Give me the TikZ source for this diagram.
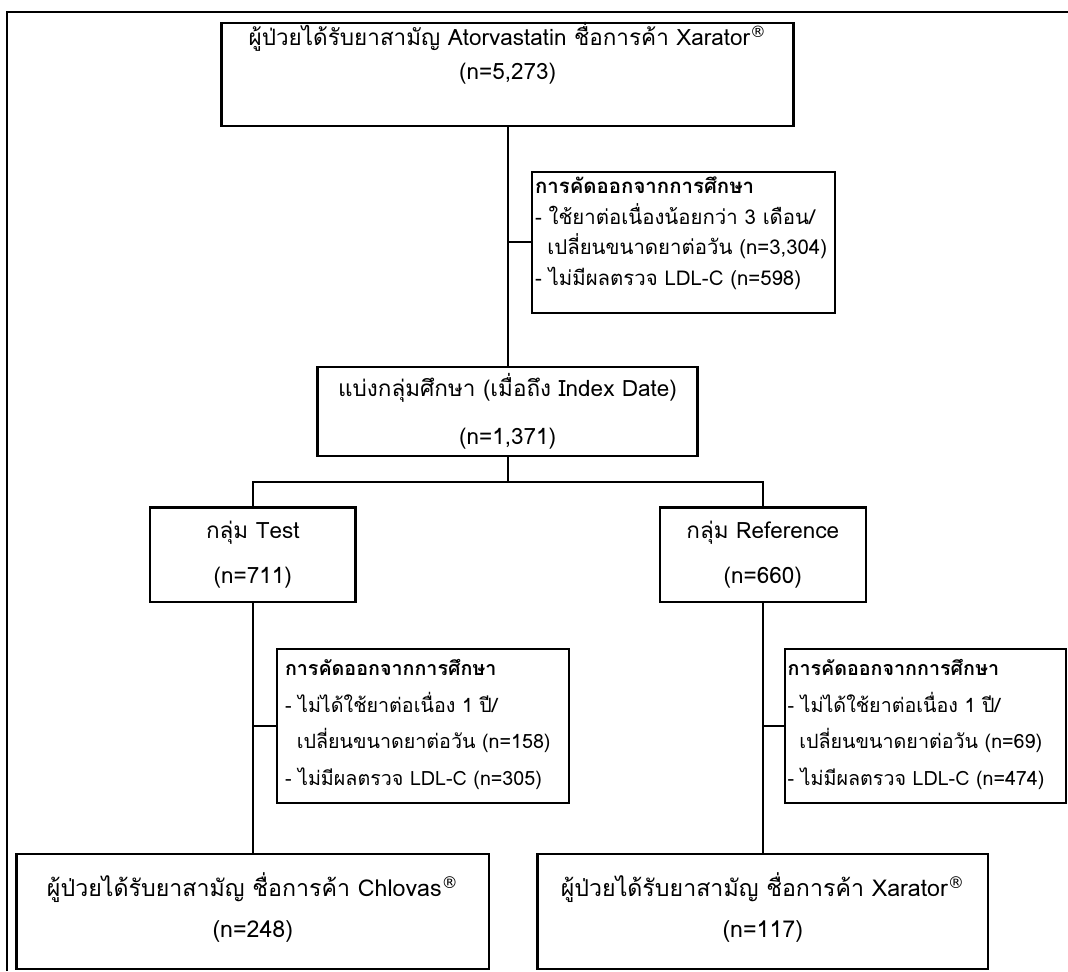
\documentclass[tikz,border=0pt]{standalone}
\usepackage{fontspec}
\setmainfont[Script=Thai]{Loma}
\newfontfamily\regfont{DejaVu Sans}
\newcommand{\regmark}{\textsuperscript{\regfont ®}}
\tikzset{
  % --- flow chart boxes ---
  flowbox/.style={draw, line width=1.7pt, align=center, inner sep=0pt,
    font=\fontsize{16}{33.8}\selectfont},
  endbox/.style={flowbox, font=\fontsize{16.5}{28.8}\selectfont},
  exclbox/.style={draw, line width=1.7pt, align=left, inner sep=0pt,
    font=\fontsize{14}{26}\selectfont},
  % first baseline sits #1/2 above the box centre
  textdrop/.style={text height=0pt, text depth=#1},
  % --- connectors ---
  joinline/.style={line width=1.5pt},
  frameline/.style={line width=2pt},
}

\begin{document}
\begin{tikzpicture}
    \useasboundingbox (0,0) rectangle (267mm,-242.75mm);
    % outer frame
    \draw[frameline] (1.75mm,-242.75mm) |- (267mm,-3mm);
    % boxes
    \node[flowbox, minimum width=143mm, minimum height=25.75mm, text width=140mm,
      textdrop=40.5pt, font=\fontsize{16}{24.2}\selectfont] (pool) at (126.9mm,-18.6mm)
      {ผู้ป่วยได้รับยาสามัญ Atorvastatin ชื่อการค้า Xarator\regmark\\(n=5,273)};
    \node[exclbox, minimum width=75.75mm, minimum height=35.25mm, text width=74.25mm,
      textdrop=69.7pt, font=\fontsize{14.5}{21.8}\selectfont] (exclA) at (170.9mm,-60.6mm)
      {\textbf{การคัดออกจากการศึกษา}\\
       - ใช้ยาต่อเนื่องน้อยกว่า 3 เดือน/\\
       \hspace*{0.6em}เปลี่ยนขนาดยาต่อวัน (n=3,304)\\
       - ไม่มีผลตรวจ LDL-C (n=598)};
    \node[flowbox, minimum width=95mm, minimum height=22.25mm, text width=92mm,
      textdrop=21pt] (groups) at (126.9mm,-102.9mm)
      {แบ่งกลุ่มศึกษา (เมื่อถึง Index Date)\\(n=1,371)};
    \node[flowbox, minimum width=51.3mm, minimum height=23.6mm, text width=49mm,
      textdrop=23.8pt, font=\fontsize{16}{32}\selectfont] (test) at (63.2mm,-138.7mm)
      {กลุ่ม Test\\(n=711)};
    \node[flowbox, minimum width=51.5mm, minimum height=23.6mm, text width=49mm,
      textdrop=23.8pt, font=\fontsize{16}{32}\selectfont] (ref) at (190.7mm,-138.7mm)
      {กลุ่ม Reference\\(n=660)};
    \node[exclbox, minimum width=73mm, minimum height=38.5mm, text width=69mm,
      textdrop=71.8pt] (exclT) at (105.75mm,-181.5mm)
      {\textbf{การคัดออกจากการศึกษา}\\
       - ไม่ได้ใช้ยาต่อเนื่อง 1 ปี/\\
       \hspace*{0.6em}เปลี่ยนขนาดยาต่อวัน (n=158)\\
       - ไม่มีผลตรวจ LDL-C (n=305)};
    \node[exclbox, minimum width=70.25mm, minimum height=38.5mm, text width=69mm,
      textdrop=71.8pt] (exclR) at (231.4mm,-181.5mm)
      {\textbf{การคัดออกจากการศึกษา}\\
       - ไม่ได้ใช้ยาต่อเนื่อง 1 ปี/\\
       \hspace*{0.6em}เปลี่ยนขนาดยาต่อวัน (n=69)\\
       - ไม่มีผลตรวจ LDL-C (n=474)};
    \node[endbox, minimum width=118.1mm, minimum height=28.75mm, text width=115mm,
      textdrop=21pt] (finT) at (63.2mm,-227.9mm)
      {ผู้ป่วยได้รับยาสามัญ ชื่อการค้า Chlovas\regmark\\(n=248)};
    \node[endbox, minimum width=112.6mm, minimum height=28.75mm, text width=110mm,
      textdrop=21pt] (finR) at (190.7mm,-227.9mm)
      {ผู้ป่วยได้รับยาสามัญ ชื่อการค้า Xarator\regmark\\(n=117)};
    \coordinate (fork) at (126.9mm,-120.5mm);
    % connectors
    \draw[joinline] (pool) -- (groups);
    \draw[joinline] (exclA.west) -- (exclA.west -| pool.south);
    \draw[joinline] (groups) -- (fork);
    \draw[joinline] (test) |- (fork) -| (ref);
    \draw[joinline] (test) -- (finT);
    \draw[joinline] (ref) -- (finR);
    \draw[joinline] (exclT.west) -- (exclT.west -| test.south);
    \draw[joinline] (exclR.west) -- (exclR.west -| ref.south);
\end{tikzpicture}
\end{document}
